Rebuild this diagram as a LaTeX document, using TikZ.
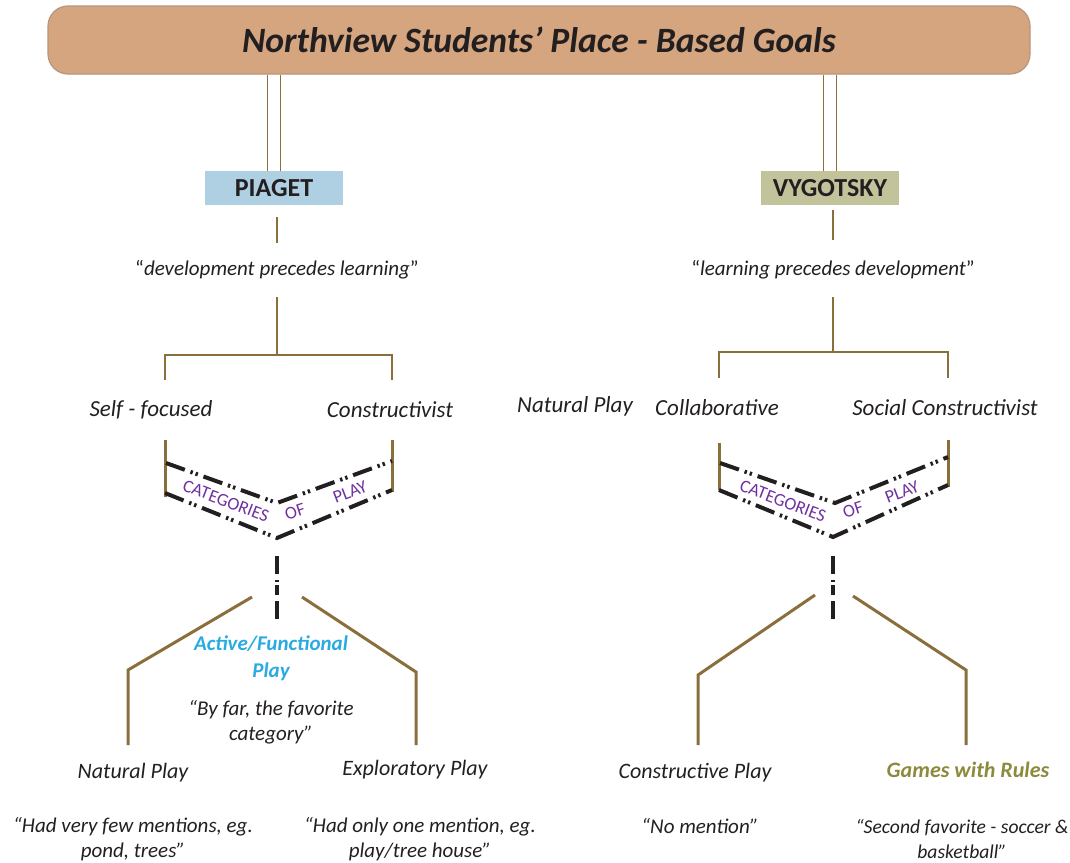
\documentclass[tikz,border=0pt]{standalone}
\usepackage{fontspec}
\setmainfont{Carlito}
\definecolor{titlebg}{HTML}{D4A57E}
\definecolor{titleln}{HTML}{B8957A}
\definecolor{piagetbg}{HTML}{AFCFE2}
\definecolor{vygotbg}{HTML}{C3C39B}
\definecolor{branch}{HTML}{8A6E3C}
\definecolor{catpurple}{HTML}{7030A0}
\definecolor{activeblue}{HTML}{29ABE2}
\definecolor{gamesolive}{HTML}{8C8A3C}
\definecolor{ink}{HTML}{231F20}
\tikzset{
  titlebox/.style={draw=titleln, line width=0.6pt, fill=titlebg, rounded corners=10pt,
    minimum width=491pt, minimum height=34pt,
    font=\bfseries\itshape\fontsize{17.8}{20}\selectfont, text=ink},
  namebox/.style={minimum width=69pt, minimum height=17pt, inner sep=0pt,
    font=\bfseries\fontsize{13}{15}\selectfont, text=ink},
  dbl/.style={draw=branch, line width=0.8pt},
  lnk/.style={draw=branch, line width=1pt},
  thick lnk/.style={draw=branch, line width=1.5pt},
  ddash/.style={draw=ink, line width=2pt,
    dash pattern=on 10pt off 3pt on 1.2pt off 1.5pt on 1.2pt off 3pt},
  lbl/.style={font=\itshape\fontsize{10.5}{12.5}\selectfont, text=ink, align=center},
  big lbl/.style={lbl, font=\itshape\fontsize{11.5}{13.5}\selectfont},
  play lbl/.style={lbl, font=\itshape\fontsize{11}{13}\selectfont},
  cat/.style={font=\fontsize{9}{11}\selectfont, text=catpurple, inner sep=0pt},
}
\begin{document}
\begin{tikzpicture}[x=0.5pt,y=-0.5pt]
\useasboundingbox (0,0) rectangle (1070,862);

% 标题
\node[titlebox] (T) at (539,40) {Northview Students' Place - Based Goals};

% 两个理论
\node[namebox, fill=piagetbg] (P) at (274,188) {PIAGET};
\node[namebox, fill=vygotbg] (V) at (830,188) {VYGOTSKY};

% 双线
\draw[dbl] ([xshift=-3.2pt]P.north) -- ([xshift=-3.2pt]P.north |- T.south);
\draw[dbl] ([xshift=3.2pt]P.north) -- ([xshift=3.2pt]P.north |- T.south);
\draw[dbl] ([xshift=-3.2pt]V.north) -- ([xshift=-3.2pt]V.north |- T.south);
\draw[dbl] ([xshift=3.2pt]V.north) -- ([xshift=3.2pt]V.north |- T.south);

% 引语
\node[lbl] (Q1) at (277,270) {{\upshape“}development precedes learning{\upshape”}};
\node[lbl] (Q2) at (833,270) {{\upshape“}learning precedes development{\upshape”}};

% 左侧的点
\coordinate (p1) at (277,217);
\coordinate (p2) at (277,243);
\coordinate (p3) at (277,297);
\coordinate (J1) at (277,355);
\coordinate (L1) at (165,355);
\coordinate (R1) at (392,355);
\coordinate (L1b) at (165,380);
\coordinate (R1b) at (392,380);

% 右侧的点
\coordinate (v1) at (833,210);
\coordinate (v2) at (833,240);
\coordinate (v3) at (833,297);
\coordinate (J2) at (833,352);
\coordinate (L2) at (719,352);
\coordinate (R2) at (948,352);
\coordinate (L2b) at (719,378);
\coordinate (R2b) at (948,378);

% 树的连线
\draw[lnk] (p1) -- (p2);
\draw[lnk] (p3) -- (J1);
\draw[lnk] (L1b) -- (L1) -- (R1) -- (R1b);
\draw[lnk] (v1) -- (v2);
\draw[lnk] (v3) -- (J2);
\draw[lnk] (L2b) -- (L2) -- (R2) -- (R2b);

% 类别
\node[big lbl] (SF) at (151,410) {Self - focused};
\node[big lbl] (CO) at (390,410) {Constructivist};
\node[big lbl] (NP) at (575,406) {Natural Play};
\node[big lbl] (CL) at (717,408) {Collaborative};
\node[big lbl] (SC) at (945,408) {Social Constructivist};

% 左边的 V
\coordinate (A1) at (165,440);
\coordinate (A2) at (165,497);
\coordinate (B1) at (392,440);
\coordinate (B2) at (392,492);
\draw[thick lnk] (A1) -- (A2);
\draw[thick lnk] (B1) -- (B2);
\coordinate (Vo1) at (166,463);
\coordinate (Vo2) at (277,503);
\coordinate (Vo3) at (392,461);
\coordinate (Vi1) at (165,493);
\coordinate (Vi2) at (277,538);
\coordinate (Vi3) at (392,490);
\draw[ddash] (Vo1) -- (Vo2) -- (Vo3);
\draw[ddash] (Vi1) -- (Vi2) -- (Vi3);
\node[cat, rotate=-21] (c1) at (226,501) {CATEGORIES};
\node[cat, rotate=18] (c2) at (295,512) {OF};
\node[cat, rotate=21] (c3) at (350,492) {PLAY};

% 右边的 V
\coordinate (C1) at (719,443);
\coordinate (C2) at (719,490);
\coordinate (D1) at (948,440);
\coordinate (D2) at (948,487);
\draw[thick lnk] (C1) -- (C2);
\draw[thick lnk] (D1) -- (D2);
\coordinate (Wo1) at (720,463);
\coordinate (Wo2) at (835,503);
\coordinate (Wo3) at (948,457);
\coordinate (Wi1) at (719,490);
\coordinate (Wi2) at (833,537);
\coordinate (Wi3) at (948,485);
\draw[ddash] (Wo1) -- (Wo2) -- (Wo3);
\draw[ddash] (Wi1) -- (Wi2) -- (Wi3);
\node[cat, rotate=-21] (d1) at (783,501) {CATEGORIES};
\node[cat, rotate=18] (d2) at (853,510) {OF};
\node[cat, rotate=21] (d3) at (902,492) {PLAY};

% 竖的点划线
\coordinate (E1) at (277,556);
\coordinate (E2) at (277,620);
\coordinate (F1) at (833,556);
\coordinate (F2) at (833,620);
\draw[ddash, dash pattern=on 9pt off 3pt on 1.2pt off 1.5pt on 5pt off 3pt] (E1) -- (E2);
\draw[ddash, dash pattern=on 9pt off 3pt on 1.2pt off 1.5pt on 5pt off 3pt] (F1) -- (F2);

% 下面的分支
\coordinate (G1) at (252,597);
\coordinate (G2) at (128,670);
\coordinate (G3) at (128,745);
\coordinate (H1) at (302,597);
\coordinate (H2) at (416,672);
\coordinate (H3) at (416,745);
\coordinate (K1) at (815,595);
\coordinate (K2) at (698,675);
\coordinate (K3) at (698,745);
\coordinate (M1) at (853,596);
\coordinate (M2) at (966,670);
\coordinate (M3) at (966,745);
\draw[thick lnk] (G1) -- (G2) -- (G3);
\draw[thick lnk] (H1) -- (H2) -- (H3);
\draw[thick lnk] (K1) -- (K2) -- (K3);
\draw[thick lnk] (M1) -- (M2) -- (M3);

% 活动游戏
\node[lbl, font=\bfseries\itshape\fontsize{10.5}{13.5}\selectfont, text=activeblue] (AF) at (271,658) {Active/Functional\\Play};
\node[lbl] (AQ) at (271,722) {“By far, the favorite\\category”};

% 游戏类型
\node[play lbl] (N1) at (133,773) {Natural Play};
\node[play lbl] (X1) at (415,770) {Exploratory Play};
\node[play lbl] (CP) at (695,773) {Constructive Play};
\node[play lbl, font=\bfseries\itshape\fontsize{11}{13}\selectfont, text=gamesolive] (GR) at (968,770) {Games with Rules};

% 评论
\node[lbl] (N2) at (133,839) {“Had very few mentions, eg.\\pond, trees”};
\node[lbl] (X2) at (420,839) {“Had only one mention, eg.\\play/tree house”};
\node[lbl] (CP2) at (700,826) {“No mention”};
\node[lbl, font=\itshape\fontsize{9.8}{12.5}\selectfont] (GR2) at (962,839) {“Second favorite - soccer \&\\basketball”};
\end{tikzpicture}
\end{document}
